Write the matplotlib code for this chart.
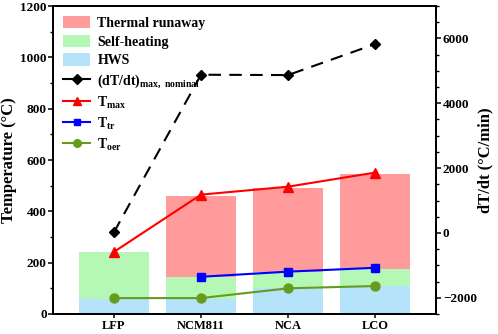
import matplotlib
matplotlib.use('Agg')
import matplotlib.pyplot as plt
from matplotlib.lines import Line2D
from matplotlib.patches import Patch
from matplotlib.ticker import MultipleLocator
import numpy as np

plt.rcParams['font.family'] = 'Liberation Serif'
plt.rcParams['font.weight'] = 'bold'
plt.rcParams['mathtext.fontset'] = 'custom'
plt.rcParams['mathtext.rm'] = 'Liberation Serif:bold'
plt.rcParams['mathtext.bf'] = 'Liberation Serif:bold'
plt.rcParams['mathtext.it'] = 'Liberation Serif:bold'

# Data
cathodes = ['LFP', 'NCM811', 'NCA', 'LCO']
hws_top = [60, 60, 100, 108]
self_heating_top = [240, 145, 162, 177]
runaway_top = [np.nan, 461, 491, 546]
t_max = [242, 465, 496, 551]
t_tr = [np.nan, 145, 165, 180]
t_oer = [62, 62, 100, 109]
dtdt_max = [20, 4880, 4870, 5825]

c_runaway = '#FF9B9B'
c_self = '#B5F7B5'
c_hws = '#B5E3F9'
c_green = '#669C1E'

fig = plt.figure(figsize=(4.98, 3.34), dpi=100)
ax = fig.add_axes([0.1064, 0.0599, 0.7691, 0.9221])
x = np.arange(len(cathodes))
w = 0.8

hws = np.array(hws_top, dtype=float)
sh = np.array(self_heating_top, dtype=float)
tr = np.array(runaway_top, dtype=float)
ax.bar(x, hws, width=w, color=c_hws, zorder=1)
ax.bar(x, sh - hws, bottom=hws, width=w, color=c_self, zorder=1)
ax.bar(x, np.nan_to_num(tr - sh), bottom=sh, width=w, color=c_runaway, zorder=1)

ax.plot(x, t_max, color='red', marker='^', markersize=7, lw=1.5, zorder=3)
ax.plot(x, t_tr, color='blue', marker='s', markersize=6, lw=1.5, zorder=3)
ax.plot(x, t_oer, color=c_green, marker='o', markersize=6.5, lw=1.5, zorder=3)

ax.set_xlim(-0.7, 3.7)
ax.set_ylim(0, 1200)
ax.set_xticks(x)
ax.set_xticklabels(cathodes, fontsize=9, fontweight='bold')
ax.yaxis.set_major_locator(MultipleLocator(200))
ax.yaxis.set_minor_locator(MultipleLocator(100))
ax.tick_params(axis='y', which='major', length=3.5, width=1.1, labelsize=9.5, pad=1)
ax.tick_params(axis='y', which='minor', length=2, width=1.0)
ax.tick_params(axis='x', length=3, width=1.1, pad=1.5)
ax.set_ylabel('Temperature (°C)', fontsize=12, fontweight='bold')
ax.yaxis.set_label_coords(-0.095, 0.5)
for s in ax.spines.values():
    s.set_linewidth(1.3)

ax2 = ax.twinx()
ax2.plot(x, dtdt_max, color='black', ls=(0, (6, 4)), marker='D', markersize=5.5, lw=1.5, zorder=4)
ax2.set_ylim(-2500, 7000)
ax2.yaxis.set_major_locator(MultipleLocator(2000))
ax2.yaxis.set_minor_locator(MultipleLocator(500))
ax2.tick_params(axis='y', which='major', length=3.5, width=1.1, labelsize=9.5, pad=1.5)
ax2.tick_params(axis='y', which='minor', length=2, width=1.0)
ax2.set_ylabel('dT/dt (°C/min)', fontsize=12, fontweight='bold')
ax2.yaxis.set_label_coords(1.108, 0.5)
for s in ax2.spines.values():
    s.set_linewidth(1.3)

handles = [
    Patch(facecolor=c_runaway, label='Thermal runaway'),
    Patch(facecolor=c_self, label='Self-heating'),
    Patch(facecolor=c_hws, label='HWS'),
    Line2D([], [], color='black', marker='D', markersize=5.5, lw=1.5, label=r'(dT/dt)$_{\mathrm{max,\ nominal}}$'),
    Line2D([], [], color='red', marker='^', markersize=6, lw=1.5, label=r'T$_{\mathrm{max}}$'),
    Line2D([], [], color='blue', marker='s', markersize=5, lw=1.5, label=r'T$_{\mathrm{tr}}$'),
    Line2D([], [], color=c_green, marker='o', markersize=5.5, lw=1.5, label=r'T$_{\mathrm{oer}}$'),
]
ax.legend(handles=handles, loc='upper left', frameon=False,
          handlelength=2.0, handleheight=1.0, labelspacing=0.35, handletextpad=0.5,
          borderaxespad=0.3, prop={'weight': 'bold', 'size': 10})

fig.savefig('out.png', dpi=100)
